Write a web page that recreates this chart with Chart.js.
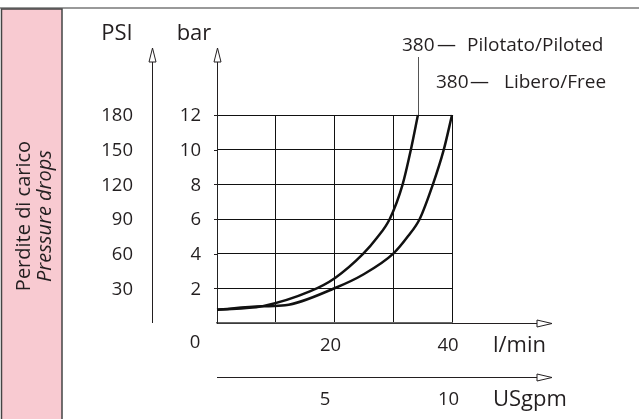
<!DOCTYPE html>
<html>
<head>
<meta charset="utf-8">
<script src="https://cdn.jsdelivr.net/npm/chart.js@4.4.1/dist/chart.umd.min.js"></script>
<style>
  html, body { margin: 0; padding: 0; background: #fff; }
  #wrap { width: 639px; height: 419px; }
</style>
</head>
<body>
<div id="wrap"><canvas id="myChart" width="639" height="419"></canvas></div>
<script>
// values (flow in l/min, pressure in bar)
const pilotatoFlow = [0, 7.6, 15.8, 20.1, 24.9, 27.2, 29.4, 31.6, 33.0, 34.2]
const pilotatoBar  = [0.77, 0.96, 1.82, 2.6, 4.0, 4.9, 6.0, 8.0, 10.0, 12.0]
const liberoFlow = [0, 7.6, 11.6, 20.1, 24.9, 30.0, 32.5, 34.5, 36.75, 38.6, 40]
const liberoBar  = [0.77, 0.96, 1.02, 2.02, 2.8, 4.0, 5.0, 6.0, 8.0, 10.0, 12.0]

const barTicks = [2, 4, 6, 8, 10, 12]
const psiTicks = [30, 60, 90, 120, 150, 180]
const lminTicks = [20, 40]
const usgpmTicks = [5, 10]
const usgpmAtFlow = [18.4, 39.4]   // where the USgpm labels sit on the l/min scale
const seriesNames = ['Pilotato/Piloted', 'Libero/Free']
const seriesCode = ['380', '380']

const FONT = '"Open Sans", "DejaVu Sans", sans-serif'
const INK = '#231f20'

const ctx = document.getElementById('myChart').getContext('2d')

function toPoints(xs, ys) {
    let pts = []
    for (let i = 0; i < xs.length; i++) {
        pts.push({ x: xs[i], y: ys[i] })
    }
    return pts
}

function arrowUp(c, x, yTip) {
    c.beginPath()
    c.moveTo(x, yTip)
    c.lineTo(x - 3.5, yTip + 14)
    c.lineTo(x + 3.5, yTip + 14)
    c.closePath()
    c.fillStyle = '#fff'
    c.fill()
    c.stroke()
}

function arrowRight(c, xTip, y) {
    c.beginPath()
    c.moveTo(xTip, y)
    c.lineTo(xTip - 15, y - 3.5)
    c.lineTo(xTip - 15, y + 3.5)
    c.closePath()
    c.fillStyle = '#fff'
    c.fill()
    c.stroke()
}

const overlay = {
    id: 'overlay',
    beforeDraw(chart) {
        const c = chart.ctx
        c.save()
        // top rule
        c.strokeStyle = '#777'
        c.lineWidth = 1.5
        c.beginPath()
        c.moveTo(0, 8)
        c.lineTo(639, 8)
        c.stroke()
        // pink side panel
        c.fillStyle = '#f8cad1'
        c.fillRect(1.5, 9, 60.5, 412)
        c.strokeStyle = '#444'
        c.lineWidth = 1.5
        c.strokeRect(1.5, 9, 60.5, 412)
        c.restore()
    },
    afterDraw(chart) {
        const c = chart.ctx
        const xs = chart.scales.x
        const ys = chart.scales.y
        const left = chart.chartArea.left
        const right = chart.chartArea.right
        const bottom = chart.chartArea.bottom
        const top = chart.chartArea.top
        c.save()

        // axes with arrows
        c.strokeStyle = INK
        c.lineWidth = 1
        c.beginPath()
        c.moveTo(152.5, bottom)
        c.lineTo(152.5, 55)
        c.moveTo(left + 0.5, top)
        c.lineTo(left + 0.5, 55)
        c.moveTo(right, bottom + 0.5)
        c.lineTo(540, bottom + 0.5)
        c.moveTo(left, 377.5)
        c.lineTo(540, 377.5)
        c.stroke()
        arrowUp(c, 152.5, 48)
        arrowUp(c, left + 0.5, 48)
        arrowRight(c, 552, bottom + 0.5)
        arrowRight(c, 552, 377.5)

        // short tick marks on the bar axis
        c.beginPath()
        barTicks.forEach(v => {
            const y = Math.round(ys.getPixelForValue(v)) + 0.5
            c.moveTo(left - 3, y)
            c.lineTo(left, y)
        })
        c.stroke()

        // leader from the piloted curve up to its label
        const px = xs.getPixelForValue(pilotatoFlow[pilotatoFlow.length - 1])
        c.strokeStyle = '#555'
        c.beginPath()
        c.moveTo(Math.round(px) + 0.5, top)
        c.lineTo(Math.round(px) + 0.5, 57)
        c.stroke()

        c.fillStyle = INK
        c.textBaseline = 'middle'

        // unit titles
        c.font = '22px ' + FONT
        c.textAlign = 'center'
        c.fillText('PSI', 117, 34)
        c.fillText('bar', 194, 34)
        c.textAlign = 'left'
        c.fillText('l/min', 493, 346)
        c.fillText('USgpm', 493, 400)

        // y tick labels
        c.font = '18.5px ' + FONT
        c.textAlign = 'right'
        barTicks.forEach(v => {
            c.fillText(String(v), left - 16, ys.getPixelForValue(v) + 1)
        })
        psiTicks.forEach((v, i) => {
            c.fillText(String(v), 133, ys.getPixelForValue(barTicks[i]) + 1)
        })

        // x tick labels
        c.textAlign = 'center'
        c.fillText('0', left - 22, 343)
        lminTicks.forEach(v => {
            c.fillText(String(v), xs.getPixelForValue(v) - 4, 346)
        })
        usgpmTicks.forEach((v, i) => {
            c.fillText(String(v), xs.getPixelForValue(usgpmAtFlow[i]), 400)
        })

        // series labels
        c.font = '19px ' + FONT
        c.textAlign = 'left'
        c.fillText(seriesCode[0], 402, 46)
        c.fillText('\u2014', 437, 46)
        c.fillText(seriesNames[0], 467, 46)
        c.fillText(seriesCode[1], 436, 83)
        c.fillText('\u2014', 470, 83)
        c.fillText(seriesNames[1], 504, 83)

        // side panel caption
        c.translate(0, 216)
        c.rotate(-Math.PI / 2)
        c.textAlign = 'center'
        c.font = '20px ' + FONT
        c.fillText('Perdite di carico', 0, 24)
        c.font = 'italic 20px ' + FONT
        c.fillText('Pressure drops', 0, 45)

        c.restore()
    }
}

const myChart = new Chart(ctx, {
    type: 'line',
    data: {
        datasets: [
            {
                label: seriesNames[0],
                data: toPoints(pilotatoFlow, pilotatoBar),
                borderColor: '#111',
                borderWidth: 2.5,
                pointRadius: 0,
                fill: false,
                cubicInterpolationMode: 'monotone',
                clip: false
            },
            {
                label: seriesNames[1],
                data: toPoints(liberoFlow, liberoBar),
                borderColor: '#111',
                borderWidth: 2.5,
                pointRadius: 0,
                fill: false,
                cubicInterpolationMode: 'monotone',
                clip: false
            }
        ]
    },
    options: {
        responsive: false,
        animation: false,
        devicePixelRatio: 1,
        layout: {
            padding: { left: 217, right: 187, top: 115, bottom: 96 }
        },
        plugins: {
            legend: { display: false },
            tooltip: { enabled: false }
        },
        scales: {
            x: {
                type: 'linear',
                min: 0,
                max: 40,
                ticks: { display: false, stepSize: 10 },
                grid: { color: '#111', lineWidth: 1, drawTicks: false },
                border: { display: true, color: '#666', width: 1.5 }
            },
            y: {
                type: 'linear',
                min: 0,
                max: 12,
                ticks: { display: false, stepSize: 2 },
                grid: { color: '#111', lineWidth: 1, drawTicks: false },
                border: { display: true, color: '#222', width: 1 }
            }
        }
    },
    plugins: [overlay]
})
</script>
</body>
</html>
